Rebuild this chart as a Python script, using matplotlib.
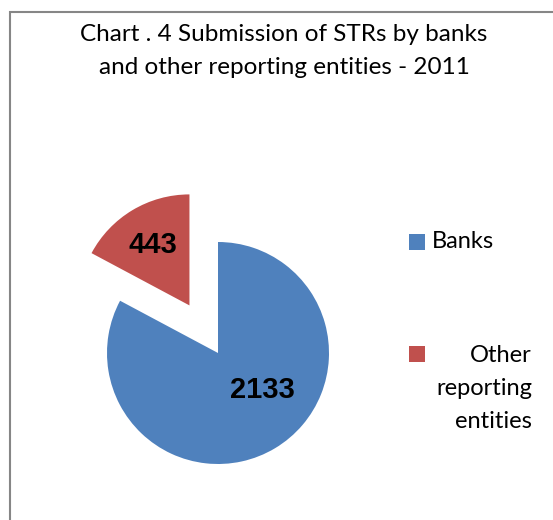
import matplotlib.pyplot as plt
from matplotlib.patches import Rectangle

# data
categories = ['Banks', 'Other reporting entities']
legend_labels = ['Banks', 'Other\nreporting\nentities']
values = [2133, 443]
colors = ['#4F81BD', '#C0504D']
explode_frac = [0, 0.5]
title = 'Chart . 4 Submission of STRs by banks\nand other reporting entities - 2011'

W, H = 553, 520
fig = plt.figure(figsize=(W / 100, H / 100), dpi=100)
ax = fig.add_axes([0, 0, 1, 1])

# pie in pixel-like units (y flipped by hand)
cx, cy, r = 218, H - 353, 111
wedges, texts = ax.pie(values, colors=colors,
                       explode=[e * r for e in explode_frac], startangle=90,
                       counterclock=False, center=(cx, cy), radius=r,
                       wedgeprops=dict(linewidth=0), frame=True)
ax.set_xlim(0, W)
ax.set_ylim(0, H)
ax.set_aspect('equal')
ax.axis('off')

# value labels
label_pos = [(262, 390), (153, 245)]
for v, (x, y) in zip(values, label_pos):
    ax.text(x, H - y, str(v), ha='center', va='center', fontsize=21,
            fontweight='bold', family='Liberation Sans')

# title
ax.text(284, H - 51, title, ha='center', va='center', fontsize=17.5,
        family='Lato', linespacing=1.65, color='#000000')

# legend drawn by hand
leg_y = [242, 354]
for lab, col, y in zip(legend_labels, colors, leg_y):
    ax.add_patch(Rectangle((409, H - y - 8), 16, 16, color=col, lw=0))
    if '\n' in lab:
        ax.text(532, H - y + 9, lab, ha='right', va='top', fontsize=17,
                family='Lato', linespacing=1.72, multialignment='right')
    else:
        ax.text(432, H - y, lab, ha='left', va='center', fontsize=17,
                family='Lato')

# chart area border
ax.add_patch(Rectangle((10, -10), W, H - 12 + 10, fill=False,
                       edgecolor='#868686', lw=1.5, clip_on=False))

fig.savefig('out.png', dpi=100, facecolor='white')
